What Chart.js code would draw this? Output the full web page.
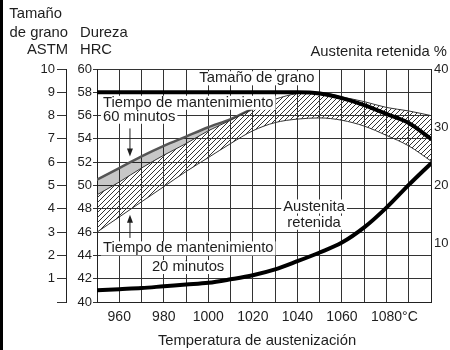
<!DOCTYPE html>
<html>
<head>
<meta charset="utf-8">
<script src="https://cdn.jsdelivr.net/npm/chart.js@4"></script>
<style>
  html, body { margin: 0; padding: 0; background: #fff; }
  #chart { display: block; }
</style>
</head>
<body>
<canvas id="chart" width="450" height="350"></canvas>
<script>
// austenitizing temperature, one point every 10 °C
const temps = [950, 960, 970, 980, 990, 1000, 1010, 1020, 1030, 1040, 1050, 1060, 1070, 1080, 1090, 1100]
// grain size (ASTM)
const grainSize = [9, 9, 9, 9, 9, 9, 9, 9, 9, 9, 8.95, 8.75, 8.45, 8.07, 7.68, 7.0]
// retained austenite (%)
const austenite = [2.0, 2.2, 2.4, 2.7, 3.0, 3.3, 3.9, 4.6, 5.6, 7.0, 8.5, 10.2, 12.8, 16.2, 20.1, 23.8]
// hardness bands (HRC)
const hardLow = [46.0, 47.3, 48.6, 49.9, 51.2, 52.4, 53.6, 54.7, 55.4, 55.7, 55.8, 55.6, 55.1, 54.3, 53.4, 52.1]
const hardMid = [49.2, 50.3, 51.5, 52.6, 53.6, 54.7, 55.6, 56.6, 57.4, 57.9, 58.0, 57.6, 57.2, 56.7, 56.4, 56.0]
const hardTop60 = [50.5, 51.5, 52.5, 53.4, 54.2, 55.0, 55.7, 56.6, null, null, null, null, null, null, null, null]

// tick labels
const xLabels = [960, 980, 1000, 1020, 1040, 1060, 1080]
const hrcTicks = [40, 42, 44, 46, 48, 50, 52, 54, 56, 58, 60]
const astmTicks = [0, 1, 2, 3, 4, 5, 6, 7, 8, 9, 10]
const austTicks = [0, 10, 20, 30, 40]

const FONT = "'Liberation Sans', Arial, sans-serif"
const INK = '#1e1e1e'
const TEXT = '14.8px ' + FONT

const pts = arr => temps.map((t, i) => ({ x: t, y: arr[i] }))

const canvas = document.getElementById('chart')
const ctx0 = canvas.getContext('2d')

// diagonal hatching for the 20 min band
const hatch = (() => {
  const c = document.createElement('canvas')
  c.width = 5; c.height = 5
  const g = c.getContext('2d')
  g.strokeStyle = '#333'
  g.lineWidth = 1
  g.beginPath()
  g.moveTo(0, 5); g.lineTo(5, 0)
  g.moveTo(-1, 1); g.lineTo(1, -1)
  g.moveTo(4, 6); g.lineTo(6, 4)
  g.stroke()
  return ctx0.createPattern(c, 'repeat')
})()

// texts, arrows and the dark left edge
const annotate = {
  id: 'annotate',
  afterDatasetsDraw(chart) {
    const ctx = chart.ctx
    const x = chart.scales.x, y = chart.scales.y
    ctx.save()
    ctx.font = TEXT
    ctx.textBaseline = 'middle'

    function boxText(text, t, h, align) {
      const px = x.getPixelForValue(t), py = y.getPixelForValue(h)
      const w = ctx.measureText(text).width
      const left = align === 'left' ? px : px - w / 2
      ctx.fillStyle = '#fff'
      ctx.fillRect(left - 2, py - 7, w + 4, 14)
      ctx.fillStyle = INK
      ctx.textAlign = 'left'
      ctx.fillText(text, left, py)
    }
    function arrow(t, h1, h2) {
      const px = x.getPixelForValue(t), y1 = y.getPixelForValue(h1), y2 = y.getPixelForValue(h2)
      const dir = y2 > y1 ? 1 : -1
      ctx.strokeStyle = INK
      ctx.lineWidth = 1
      ctx.beginPath()
      ctx.moveTo(px, y1); ctx.lineTo(px, y2 - dir * 6)
      ctx.stroke()
      ctx.fillStyle = INK
      ctx.beginPath()
      ctx.moveTo(px, y2); ctx.lineTo(px - 3, y2 - dir * 8); ctx.lineTo(px + 3, y2 - dir * 8)
      ctx.closePath(); ctx.fill()
    }

    boxText('Tamaño de grano', 1021.8, 59.2, 'center')
    boxText('Tiempo de mantenimiento', 952.7, 57.1, 'left')
    boxText('60 minutos', 952.7, 55.9, 'left')
    boxText('Tiempo de mantenimiento', 952.7, 44.6, 'left')
    boxText('20 minutos', 990.9, 43.0, 'center')
    boxText('Austenita', 1047.5, 48.2, 'center')
    boxText('retenida', 1047.5, 46.8, 'center')

    arrow(964.8, 54.9, 52.5)
    arrow(964.8, 45.5, 47.5)
    ctx.restore()
  },
  afterDraw(chart) {
    const ctx = chart.ctx
    const area = chart.chartArea
    const x = chart.scales.x
    ctx.save()
    ctx.fillStyle = '#000'
    ctx.fillRect(0, 0, 3, 350)

    ctx.fillStyle = INK
    ctx.textBaseline = 'middle'
    ctx.font = TEXT
    ctx.textAlign = 'right'
    ctx.fillText('Tamaño', 62, 14)
    ctx.fillText('de grano', 68, 33)
    ctx.fillText('ASTM', 68, 50)
    ctx.textAlign = 'left'
    ctx.fillText('Dureza', 80, 33)
    ctx.fillText('HRC', 80, 50)
    ctx.textAlign = 'right'
    ctx.fillText('Austenita retenida %', 447, 52)
    ctx.textAlign = 'center'
    ctx.fillText('Temperatura de austenización', 257, 341)

    // degree sign after the last temperature label
    ctx.font = '14px ' + FONT
    const w = ctx.measureText('1080').width
    ctx.textAlign = 'left'
    ctx.fillText('°C', x.getPixelForValue(1080) + w / 2, area.bottom + 7 + 8.4)
    ctx.restore()
  }
}

const tickFont = { family: FONT, size: 13 }

new Chart(canvas, {
  type: 'line',
  data: {
    datasets: [
      { data: pts(grainSize), yAxisID: 'yA', borderColor: '#000', borderWidth: 4, fill: false },
      { data: pts(austenite), yAxisID: 'yR', borderColor: '#000', borderWidth: 4, fill: false },
      { data: pts(hardLow), yAxisID: 'y', borderColor: '#333', borderWidth: 1, fill: false },
      { data: pts(hardMid), yAxisID: 'y', borderColor: '#333', borderWidth: 1, fill: 2, backgroundColor: hatch },
      { data: pts(hardTop60), yAxisID: 'y', borderColor: '#555', borderWidth: 2.5, fill: 3, backgroundColor: 'rgba(0,0,0,0.22)' }
    ]
  },
  options: {
    responsive: false,
    devicePixelRatio: 1,
    animation: false,
    events: [],
    layout: { padding: { top: 69, left: 0, right: 0, bottom: 0 } },
    elements: {
      point: { radius: 0 },
      line: { cubicInterpolationMode: 'monotone', borderCapStyle: 'round' }
    },
    plugins: { legend: { display: false }, tooltip: { enabled: false }, title: { display: false } },
    scales: {
      x: {
        type: 'linear', min: 950, max: 1100,
        afterBuildTicks: s => { s.ticks = temps.map(v => ({ value: v })) },
        afterFit: s => { s.height = 48 },
        ticks: {
          autoSkip: false, maxRotation: 0, padding: 7, color: INK,
          font: { family: FONT, size: 14 },
          callback: v => xLabels.includes(v) ? String(v) : ''
        },
        grid: { color: '#333', lineWidth: 1, drawTicks: false },
        border: { color: '#222', width: 1 }
      },
      y: {
        position: 'left', weight: 0, min: 40, max: 60,
        afterBuildTicks: s => { s.ticks = hrcTicks.map(v => ({ value: v })) },
        afterFit: s => { s.width = 31 },
        ticks: { padding: 1, color: INK, font: tickFont },
        grid: { color: '#333', lineWidth: 1, tickLength: 4 },
        border: { color: '#222', width: 1 }
      },
      yA: {
        position: 'left', weight: 1, min: 0, max: 10,
        afterBuildTicks: s => { s.ticks = astmTicks.map(v => ({ value: v })) },
        afterFit: s => { s.width = 66 },
        ticks: { padding: 2, color: INK, font: tickFont, callback: v => v === 0 ? '' : String(v) },
        grid: { drawOnChartArea: false, color: '#333', tickLength: 9 },
        border: { color: '#222', width: 1 }
      },
      yR: {
        position: 'right', min: 0, max: 40,
        afterBuildTicks: s => { s.ticks = austTicks.map(v => ({ value: v })) },
        afterFit: s => { s.width = 19 },
        ticks: { padding: 3, color: INK, font: tickFont, callback: v => v === 0 ? '' : String(v) },
        grid: { drawOnChartArea: false, drawTicks: false },
        border: { color: '#222', width: 1 }
      }
    }
  },
  plugins: [annotate]
})
</script>
</body>
</html>
